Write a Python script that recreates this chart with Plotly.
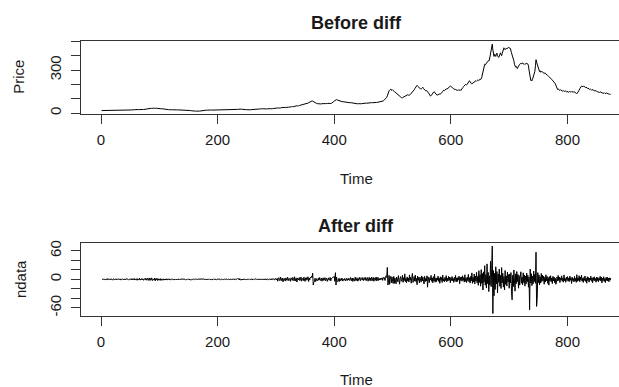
import numpy as np
import plotly.graph_objects as go

# ---------------- data ----------------
price = [
    18,18,19,18,18,17,18,18,19,19,18,18,18,19,18,18,17,18,18,19,19,18,18,19,19,
    19,18,18,19,19,20,19,19,18,19,19,20,20,19,19,20,19,19,20,20,21,20,20,21,21,
    22,22,23,22,23,24,23,24,25,24,24,25,26,25,24,25,26,26,25,26,27,26,25,26,27,
    28,27,28,30,31,30,32,33,31,32,34,33,32,33,34,35,33,32,33,34,33,32,33,32,31,
    32,31,30,31,30,29,28,27,26,26,25,25,24,24,25,24,24,23,24,24,23,23,24,23,23,
    23,22,23,23,22,23,23,22,22,23,22,22,23,22,22,21,22,22,21,21,22,21,21,20,20,
    20,19,18,17,16,15,15,14,14,15,14,14,14,15,14,14,15,14,14,15,15,16,17,18,19,
    20,20,21,20,21,21,20,21,21,22,21,21,22,21,21,22,22,21,22,22,21,22,22,21,22,
    22,21,22,22,21,22,22,22,21,22,22,23,22,22,21,22,22,23,22,22,23,22,22,23,23,
    22,23,23,22,23,24,23,24,26,27,28,29,28,30,29,28,27,26,25,25,24,24,23,24,24,
    23,24,24,23,24,23,24,24,25,24,24,25,24,25,26,27,28,27,28,29,28,29,30,29,30,
    29,30,31,30,29,30,31,30,29,30,31,32,31,30,31,30,29,30,31,32,33,32,31,33,34,
    34,35,36,35,34,36,37,36,38,39,38,37,39,40,41,40,39,41,42,43,42,41,43,44,45,
    44,45,47,46,45,47,48,50,49,51,52,50,49,51,53,54,52,53,55,57,56,58,60,62,61,
    63,65,66,68,70,72,74,76,79,82,85,86,83,80,78,75,72,70,68,67,66,65,64,65,66,
    65,64,65,66,65,64,65,66,67,66,65,66,67,68,67,66,67,68,67,68,70,72,76,80,85,
    88,91,93,94,92,90,88,86,85,84,83,82,80,79,80,79,78,77,76,77,76,75,74,75,74,
    73,72,73,72,71,70,71,70,69,68,67,68,67,66,65,66,65,64,65,66,65,66,67,68,67,
    68,69,68,69,70,69,70,71,70,71,72,71,72,73,72,73,74,73,74,75,74,75,74,75,76,
    75,76,77,76,78,79,80,82,85,88,92,95,99,103,110,120,135,148,155,160,163,168,160,158,162,
    155,152,150,148,145,140,138,135,130,128,125,120,118,112,108,105,107,110,112,115,118,120,122,125,127,
    128,125,124,126,128,132,138,145,150,155,158,162,170,178,185,190,193,188,182,178,175,172,170,168,172,
    176,180,172,165,160,158,155,158,156,150,142,135,128,122,119,121,128,135,142,147,150,146,140,132,128,
    125,127,130,133,136,134,132,135,140,146,152,158,160,156,162,168,170,166,170,175,178,182,185,188,186,
    184,180,176,172,168,166,164,165,162,160,158,160,162,158,160,163,158,162,168,175,180,186,192,197,200,
    198,196,200,210,218,222,225,216,210,206,204,208,212,215,218,220,224,226,222,228,230,228,231,232,233,
    236,238,250,270,300,318,330,340,336,345,352,355,360,365,362,370,388,405,430,465,480,440,400,395,410,
    405,395,412,418,400,392,388,395,405,420,410,400,415,430,445,455,450,442,447,452,448,450,455,458,452,
    455,450,440,420,405,395,385,365,340,330,320,325,315,310,320,330,338,340,345,342,344,350,346,348,345,
    340,344,342,346,348,345,342,330,300,262,240,228,232,225,235,250,262,270,290,330,372,355,340,318,305,
    300,290,295,285,288,292,285,280,278,282,275,278,272,270,268,262,258,255,250,246,242,238,235,230,226,
    222,218,214,205,195,180,170,165,168,162,160,158,163,160,155,158,152,156,150,152,155,150,148,152,150,
    148,145,150,152,148,145,150,147,143,146,150,145,140,142,138,135,140,145,152,160,170,180,185,188,186,
    182,185,188,184,180,178,182,176,172,175,170,168,165,168,164,160,165,162,158,160,156,158,154,150,152,
    150,148,150,146,144,148,145,142,140,136,138,140,142,138,134,136,140,138,135,132,134,131,133,131,
]

ndata = [
    0.5,-0.8,1.2,-0.6,0.3,-1.1,0.9,0.4,-0.7,1.5,-1.2,0.6,-0.3,0.8,-0.9,1.1,-0.5,0.2,-1.4,0.7,1.3,-0.8,0.4,-0.6,0.9,
    -1.0,0.6,-0.4,1.2,-0.9,0.3,0.8,-1.3,0.5,-0.2,1.0,-0.7,0.4,-1.1,0.9,0.6,-0.8,1.4,-0.5,0.3,-1.2,0.8,0.2,-0.6,1.1,
    -0.9,1.6,-1.3,0.7,-0.4,1.8,-1.5,0.9,-0.6,1.2,-2.0,1.4,0.3,-1.1,2.2,-1.7,0.6,-0.8,1.9,-1.2,0.4,-2.1,1.5,0.7,-1.0,
    2.4,-1.8,1.1,2.6,-2.2,0.8,2.9,-2.5,1.6,-0.7,3.1,-2.8,1.2,0.9,-1.6,2.7,-3.2,1.5,-0.9,2.0,-2.4,1.3,-1.7,0.8,-1.9,
    1.4,-2.3,0.9,-1.5,-1.2,1.1,-1.8,0.6,-1.4,0.8,-0.9,1.2,-1.6,0.5,0.7,-1.1,0.9,-1.3,0.6,0.4,-0.8,1.0,-0.5,-0.7,0.6,
    -0.5,0.8,-0.9,0.7,-0.6,0.9,-0.4,-0.7,0.8,-0.9,0.5,0.6,-0.8,0.4,-0.6,0.7,-0.5,0.3,-0.8,0.6,-0.4,0.5,-0.7,0.4,-0.3,
    -0.6,-0.9,-1.1,-0.8,-1.2,0.4,-0.7,0.5,-0.6,0.8,-0.5,0.3,0.6,-0.7,0.4,0.5,-0.6,0.3,0.7,-0.4,0.9,1.1,0.8,1.0,0.9,
    0.6,-0.7,0.9,-0.8,0.5,0.3,-0.6,0.7,-0.5,0.8,-0.7,0.4,0.6,-0.8,0.5,-0.4,0.7,-0.6,0.5,-0.3,0.6,-0.7,0.4,0.5,-0.6,
    0.7,-0.5,0.4,-0.8,0.6,0.3,-0.5,0.8,-0.7,0.4,0.6,-0.5,0.3,-0.7,0.8,-0.4,0.5,0.6,-0.8,0.4,-0.5,0.7,-0.3,0.6,-0.4,
    0.5,-0.6,0.4,0.9,-0.7,1.3,0.8,1.6,1.2,1.0,-1.4,1.7,-1.1,-0.9,-1.3,-1.0,-0.8,-0.6,0.5,-0.7,0.4,-0.5,0.6,-0.4,0.3,
    -0.6,0.7,-0.5,0.8,-0.6,0.5,0.4,-0.7,0.6,-0.5,0.8,-0.4,0.7,0.9,1.0,-0.6,0.8,0.7,-0.8,0.9,-0.6,0.8,-0.9,0.7,-0.5,
    0.9,-1.1,0.8,-0.7,1.0,-1.2,0.9,-0.8,1.1,0.9,-1.0,-0.8,1.1,-0.9,-0.7,1.2,-1.3,1.0,1.1,0.9,-1.2,-0.8,1.9,1.0,-1.5,
    2.0,-4.1,1.4,3.6,-2.6,-1.0,4.8,-3.2,0.7,2.7,-5.3,1.5,2.2,-1.2,-3.7,3.1,0.9,-2.4,4.4,-1.4,-2.9,1.9,1.0,-4.2,3.2,
    1.2,-2.2,4.1,-0.9,-3.1,5.4,-3.6,1.5,2.4,-5.8,2.9,0.5,-1.5,3.7,-2.7,-0.7,4.9,-3.9,1.9,1.0,-2.6,4.6,-1.4,-4.4,3.1,
    3.9,-1.9,1.4,5.3,-4.6,2.6,-1.0,4.1,3.2,6.5,3.8,13.0,-12.0,-6.5,-4.8,2.4,-4.8,-2.7,1.5,-3.6,-2.2,2.9,-1.4,3.7,-2.6,
    -1.5,2.7,-3.9,1.2,3.2,-2.4,-1.0,3.6,-3.1,1.5,2.2,-4.3,1.0,3.1,-2.0,-1.2,4.1,-3.2,1.4,2.6,4.4,3.6,5.8,6.2,-4.1,
    14.0,-12.0,4.8,-2.7,-5.1,-3.6,2.2,-4.4,1.4,-2.9,-1.5,2.6,-3.7,1.0,-2.4,-1.4,2.0,-3.2,-0.9,1.9,-2.7,1.2,-1.5,2.4,-2.0,
    -2.4,3.9,-1.8,-3.3,2.7,-4.5,2.1,-1.2,-3.6,4.8,-2.7,-2.1,3.3,-3.9,1.5,-2.4,4.2,-1.8,-3.0,3.6,2.4,-1.5,3.9,-2.7,2.1,
    3.3,-1.8,4.2,-2.7,2.4,3.6,-3.9,1.8,4.5,-2.4,2.7,-3.3,4.8,2.1,-2.7,3.9,-4.2,2.4,3.6,-2.1,4.8,-3.6,2.7,4.2,-2.4,
    1.7,-1.5,2.3,-0.9,1.8,3.1,-2.2,4.1,2.7,3.6,-2.4,4.2,7.5,3.9,25.0,-12.0,-6.3,8.4,-10.5,4.8,6.2,-7.4,5.1,-4.3,-8.7,
    6.2,-8.5,3.1,-2.4,-9.6,4.7,-1.8,-5.3,7.9,-3.6,-10.2,2.5,5.8,-4.1,-1.2,8.6,-6.3,3.4,-2.7,11.5,-4.8,1.9,-7.2,5.1,-3.3,
    2.8,-5.6,9.3,-1.7,4.2,-8.1,3.6,12.4,-6.5,-2.9,5.7,-3.8,8.9,-4.4,1.6,-11.3,6.8,-2.1,3.9,-7.6,4.5,-1.3,-5.9,7.2,-3.1,
    4.6,-2.5,-9.8,6.3,-4.7,1.8,-3.4,7.5,-16.5,5.2,-2.8,-6.9,3.7,-1.5,8.4,-4.2,2.9,-7.3,5.6,-3.5,10.8,-6.1,2.4,-4.9,3.2,
    -1.9,6.7,-4.3,2.6,-8.5,5.4,-2.2,3.8,-6.6,9.1,-3.7,1.4,-5.2,4.3,-2.6,7.8,-4.9,2.1,-3.6,6.2,-1.8,4.7,-7.1,3.3,-2.4,
    5.9,-3.2,1.7,-6.4,4.1,-2.7,8.3,-5.5,2.9,-4.6,3.8,-1.6,6.7,-9.2,4.4,-2.3,5.1,-3.9,7.4,-2.1,3.6,-5.8,9.6,-4.2,2.5,
    -6.7,4.8,-2.6,10.3,-5.1,3.4,-7.9,6.2,-3.3,13.5,-8.4,4.1,-5.6,11.2,-9.7,6.5,-3.8,14.8,-7.3,5.9,-12.6,18.2,-6.4,9.7,-14.5,
    20.4,-8.6,12.3,-22.5,15.7,-6.2,28.6,-12.4,9.8,-18.3,32.5,-9.1,14.6,-25.8,7.3,-11.7,38.2,-15.4,22.6,70.0,-72.0,18.5,-34.6,12.7,-21.3,
    26.4,-9.8,16.3,-28.7,11.2,-6.4,21.5,-14.6,8.3,-19.2,24.7,-7.5,12.8,-16.3,5.9,-22.4,18.6,-10.5,7.2,-13.8,15.4,-5.6,9.8,-18.7,11.3,
    -7.4,14.2,-26.5,-43.0,8.6,-15.3,19.7,-6.2,-24.8,11.5,-9.3,16.4,-4.7,10.2,-18.6,7.8,-12.1,5.4,15.9,-8.2,4.6,-11.4,13.7,-6.8,9.2,
    -14.3,6.5,-9.7,12.8,-5.2,8.4,-16.7,4.3,-64.0,21.5,-7.6,11.8,-13.2,6.4,-9.5,17.3,-4.8,10.6,-8.3,57.0,-57.0,-40.0,14.2,-6.9,9.4,
    -11.6,5.3,-7.8,12.4,-4.6,8.7,-3.2,6.9,-10.3,4.2,-5.7,9.5,-2.8,6.1,-8.4,3.6,-12.2,5.8,-3.4,7.6,-4.9,2.7,-9.1,6.3,-3.5,
    4.8,-7.2,2.3,-10.4,-6.7,5.1,-3.6,8.2,-2.4,4.9,-6.8,3.1,-1.7,7.3,-4.2,2.6,-5.9,9.4,-3.1,1.8,-6.3,4.5,-2.2,5.7,-3.8,
    2.7,-4.6,6.8,-1.9,3.5,-8.7,4.2,-2.6,1.4,-5.3,6.1,-3.7,2.2,-6.4,9.8,-4.1,3.3,-2.5,7.6,-5.2,4.7,-1.6,8.9,-3.9,2.1,
    -6.5,3.8,-2.4,7.1,-4.3,1.9,-8.2,5.4,-2.6,3.7,-5.8,2.4,-1.5,6.6,-3.9,2.8,-7.4,4.1,-2.2,5.3,-3.4,1.7,-6.1,4.6,-2.7,
    3.9,-5.2,2.6,-1.8,6.4,-3.3,4.8,-7.6,2.1,-2.9,5.5,-4.4,1.6,-6.7,3.8,-2.3,4.9,-3.6,2.4,-5.1,3.2,-1.9,2.8,
]

x_ticks = [0, 200, 400, 600, 800]
x_ticklabels = ["0", "200", "400", "600", "800"]
price_ticks = [0, 100, 200, 300, 400, 500]
price_ticklabels = ["0", "", "", "300", "", ""]
ndata_ticks = [-60, -40, -20, 0, 20, 40, 60]
ndata_ticklabels = ["-60", "", "", "0", "", "", "60"]

t_price = np.arange(1, len(price) + 1)
t_ndata = np.arange(2, len(ndata) + 2)

# ---------------- figure ----------------
W, H = 619, 387
FONT = "Liberation Sans, Arial, sans-serif"
TXT = "#1a1a1a"
AX = "#333333"

def px(v):
    return v / W

def py(v):
    return 1 - v / H

fig = go.Figure()
fig.add_trace(go.Scatter(x=t_price, y=price, mode="lines",
                         line=dict(color="black", width=1), xaxis="x", yaxis="y",
                         hoverinfo="skip"))
fig.add_trace(go.Scatter(x=t_ndata, y=ndata, mode="lines",
                         line=dict(color="black", width=1), xaxis="x2", yaxis="y2",
                         hoverinfo="skip"))

xr = [-34.3, 888.3]
common_x = dict(range=xr, showgrid=False, zeroline=False, showline=True, mirror=True,
                linecolor=AX, linewidth=1, ticks="outside", ticklen=9, tickwidth=1,
                tickcolor=AX, tickvals=x_ticks, ticktext=x_ticklabels,
                tickfont=dict(family=FONT, size=15, color=TXT), ticklabelstandoff=3)
common_y = dict(showgrid=False, zeroline=False, showline=True, mirror=False,
                linecolor=AX, linewidth=1, ticks="outside", ticklen=9, tickwidth=1,
                tickcolor=AX, tickangle=-90,
                tickfont=dict(family=FONT, size=15, color=TXT), ticklabelstandoff=4)

fig.update_layout(
    width=W, height=H,
    margin=dict(l=0, r=0, t=0, b=0),
    paper_bgcolor="white", plot_bgcolor="white",
    showlegend=False,
    xaxis=dict(domain=[px(81), 1], anchor="y", **common_x),
    yaxis=dict(domain=[py(112.3), py(38.3)], anchor="x", range=[-7, 503],
               tickvals=price_ticks, ticktext=price_ticklabels, **common_y),
    xaxis2=dict(domain=[px(81), 1], anchor="y2", **common_x),
    yaxis2=dict(domain=[py(316.7), py(242.7)], anchor="x2", range=[-78, 76],
                tickvals=ndata_ticks, ticktext=ndata_ticklabels, **common_y),
)

def label(text, x, y, size=15, bold=False, angle=0):
    fig.add_annotation(text=("<b>%s</b>" % text) if bold else text,
                       x=px(x), y=py(y), xref="paper", yref="paper",
                       xanchor="center", yanchor="middle", showarrow=False,
                       textangle=angle, font=dict(family=FONT, size=size, color=TXT))

label("Before diff", 356, 20, size=18, bold=True)
label("After diff", 356, 225, size=18, bold=True)
label("Time", 356, 177)
label("Time", 356, 380)
label("Price", 18.5, 75, angle=-90)
label("ndata", 20, 279, angle=-90)

fig.write_html("out.html")
